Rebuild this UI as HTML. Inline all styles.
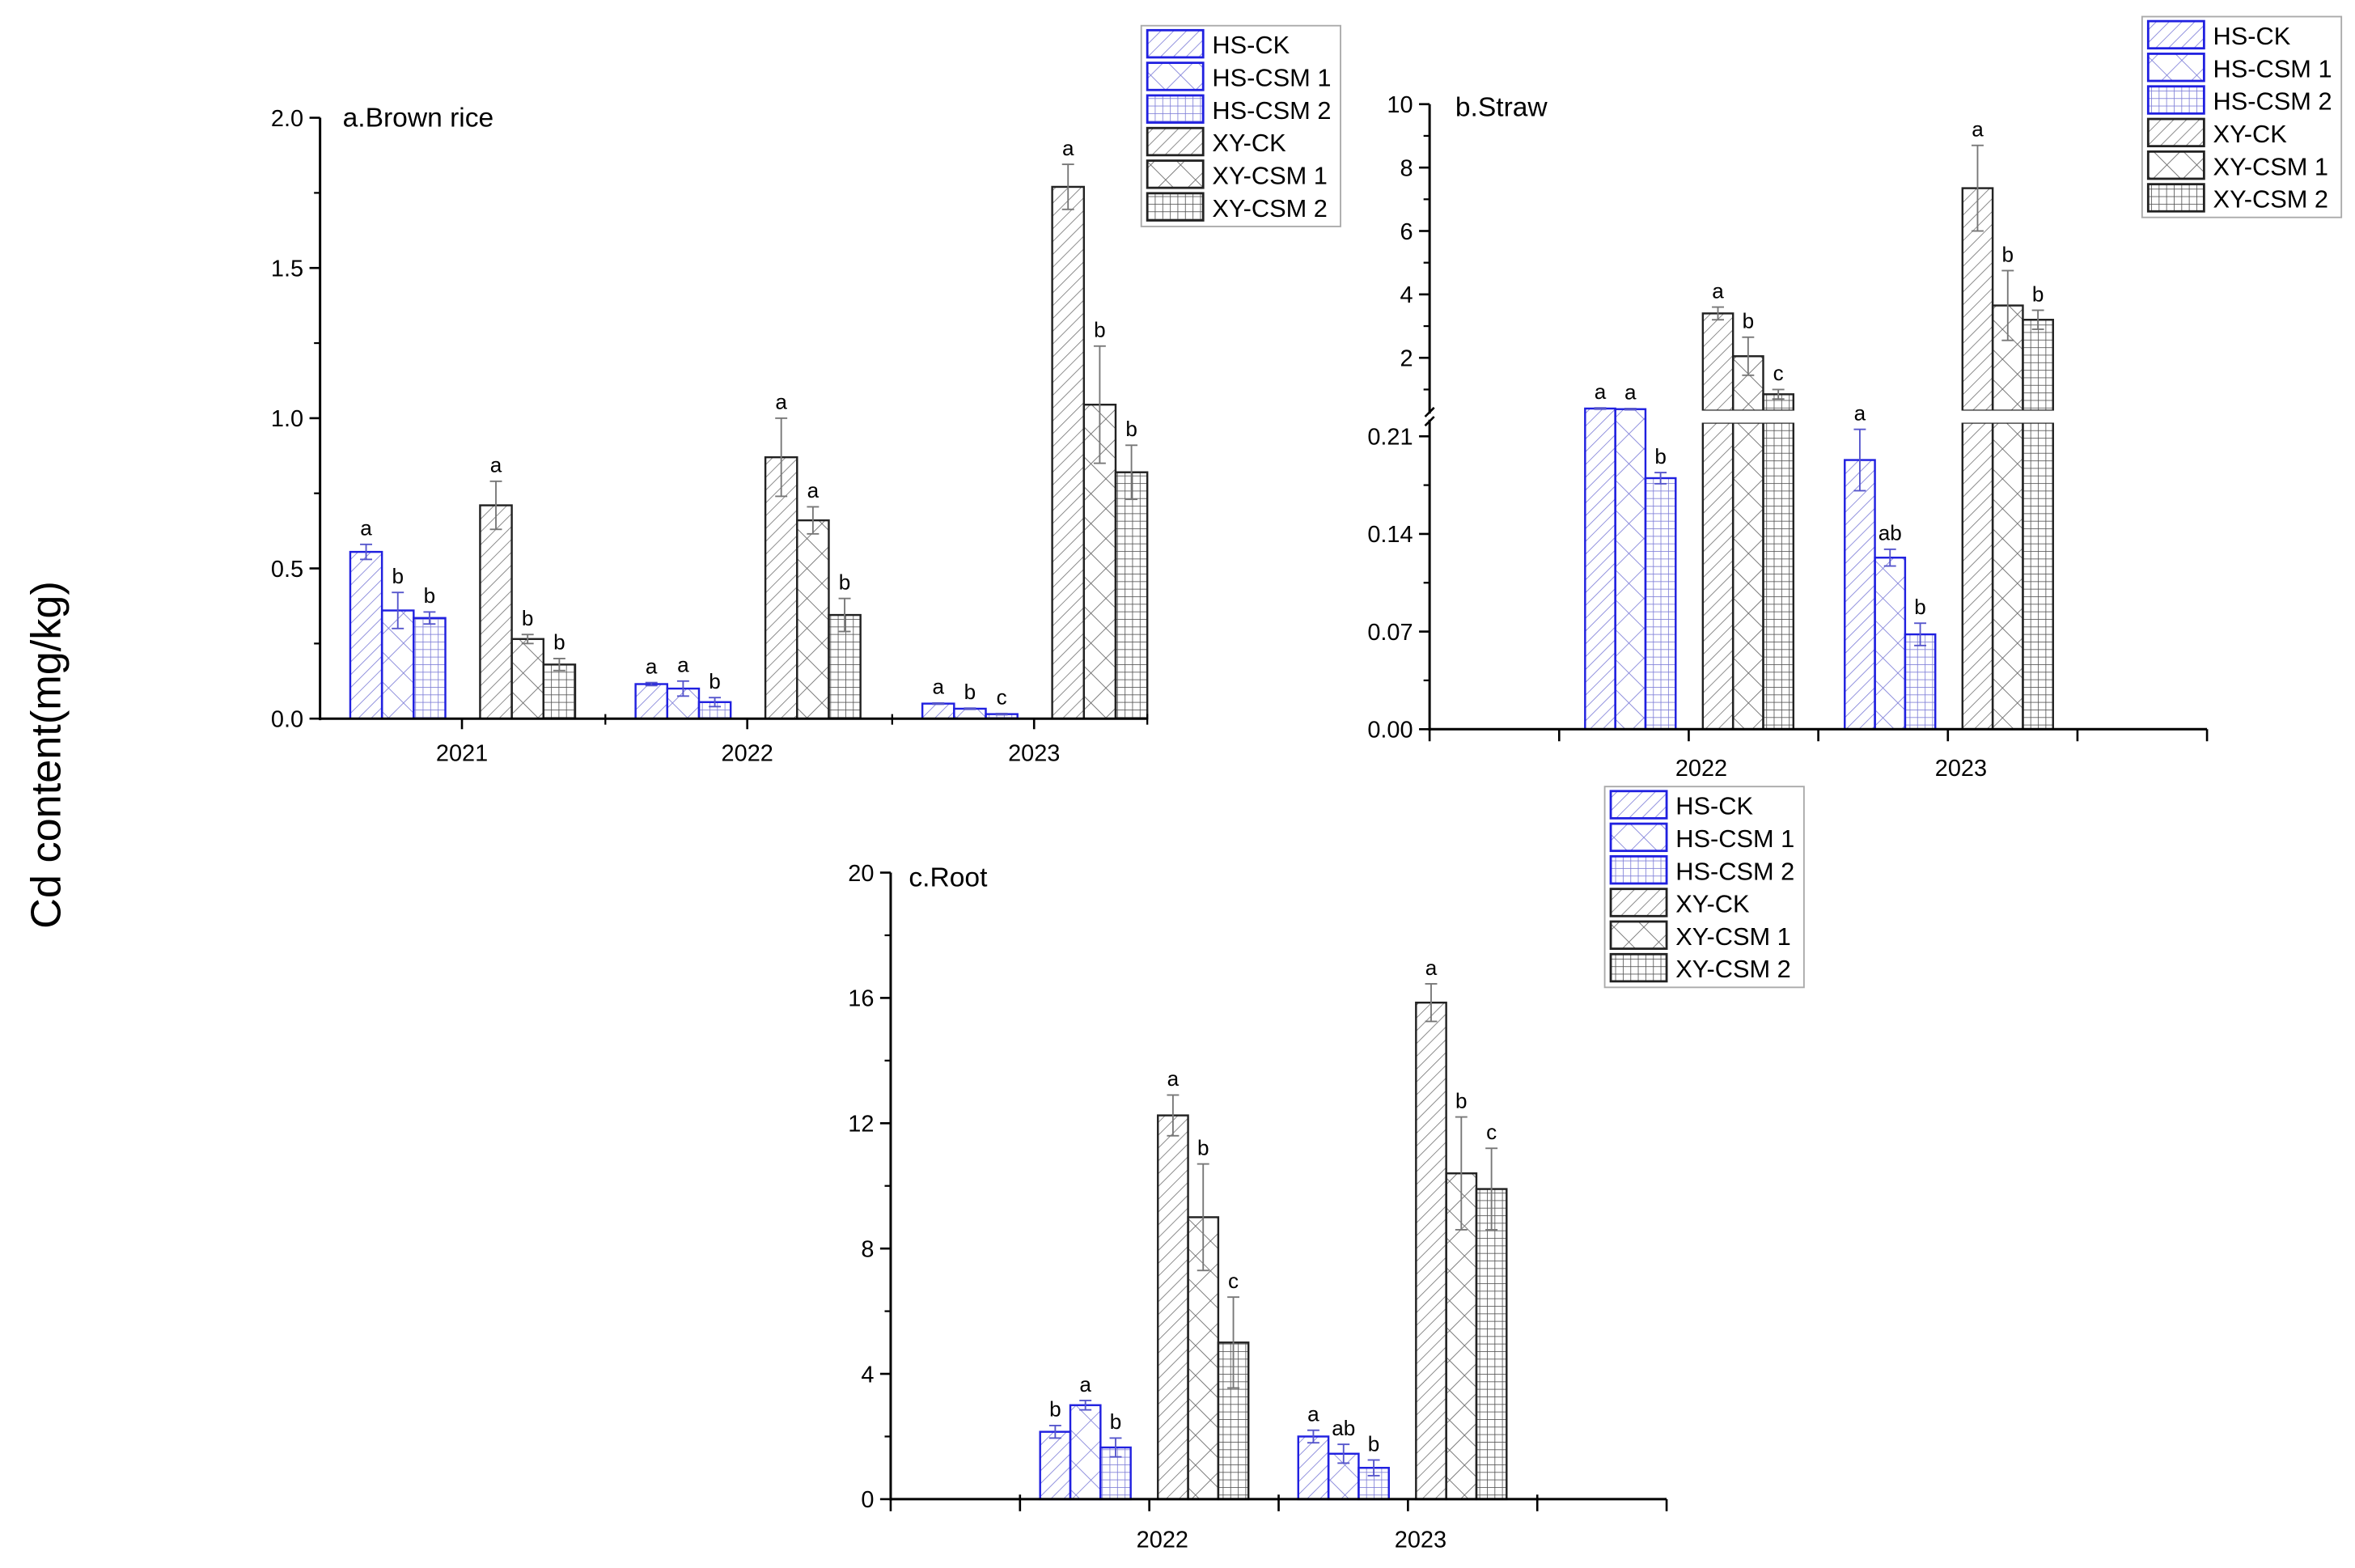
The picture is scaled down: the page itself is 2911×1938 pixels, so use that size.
<!DOCTYPE html>
<html><head><meta charset="utf-8"><style>
html,body{margin:0;padding:0;background:#fff;}
svg{display:block;font-family:"Liberation Sans",Arial,sans-serif;}
</style></head><body>
<svg id="fig" width="2911" height="1938" viewBox="0 0 1560 1038.6" xmlns="http://www.w3.org/2000/svg">
<defs>
<pattern id="p-hs-diag" patternUnits="userSpaceOnUse" width="6" height="6" patternTransform="rotate(45)"><line x1="0" y1="0" x2="0" y2="6" stroke="#7f7fd8" stroke-width="0.9"/></pattern>
<pattern id="p-xy-diag" patternUnits="userSpaceOnUse" width="6" height="6" patternTransform="rotate(45)"><line x1="0" y1="0" x2="0" y2="6" stroke="#777" stroke-width="0.9"/></pattern>
<pattern id="p-hs-cross" patternUnits="userSpaceOnUse" width="14" height="14" patternTransform="rotate(45)"><line x1="0" y1="0" x2="0" y2="14" stroke="#7f7fd8" stroke-width="0.9"/><line x1="0" y1="0" x2="14" y2="0" stroke="#7f7fd8" stroke-width="0.9"/></pattern>
<pattern id="p-xy-cross" patternUnits="userSpaceOnUse" width="14" height="14" patternTransform="rotate(45)"><line x1="0" y1="0" x2="0" y2="14" stroke="#666" stroke-width="0.9"/><line x1="0" y1="0" x2="14" y2="0" stroke="#666" stroke-width="0.9"/></pattern>
<pattern id="p-hs-grid" patternUnits="userSpaceOnUse" width="5" height="5"><line x1="0" y1="0" x2="0" y2="5" stroke="#7f7fd8" stroke-width="0.9"/><line x1="0" y1="0" x2="5" y2="0" stroke="#7f7fd8" stroke-width="0.9"/></pattern>
<pattern id="p-xy-grid" patternUnits="userSpaceOnUse" width="5" height="5"><line x1="0" y1="0" x2="0" y2="5" stroke="#555" stroke-width="0.9"/><line x1="0" y1="0" x2="5" y2="0" stroke="#555" stroke-width="0.9"/></pattern>
</defs>
<text x="0" y="0" font-size="28" text-anchor="middle" transform="translate(40,500) rotate(-90)">Cd content(mg/kg)</text>
</svg>
<script>
// ---- shared series ----
const seriesNames = ["HS-CK","HS-CSM 1","HS-CSM 2","XY-CK","XY-CSM 1","XY-CSM 2"];
// ---- chart a: brown rice ----
const aCategories = ["2021","2022","2023"];
const aHSCK = [0.555,0.115,0.05];
const aHSCSM1 = [0.36,0.10,0.033];
const aHSCSM2 = [0.335,0.055,0.015];
const aXYCK = [0.71,0.87,1.77];
const aXYCSM1 = [0.265,0.66,1.045];
const aXYCSM2 = [0.18,0.345,0.82];
const aErrHSCK = [0.025,0.005,0.002];
const aErrHSCSM1 = [0.06,0.025,0.002];
const aErrHSCSM2 = [0.02,0.015,0.002];
const aErrXYCK = [0.08,0.13,0.075];
const aErrXYCSM1 = [0.015,0.045,0.195];
const aErrXYCSM2 = [0.02,0.055,0.09];
const aLetters = [["a","b","b","a","b","b"],["a","a","b","a","a","b"],["a","b","c","a","b","b"]];
const aTicks = ["0.0","0.5","1.0","1.5","2.0"];
// ---- chart b: straw ----
const bCategories = ["2022","2023"];
const bHSCK = [0.40,0.193];
const bHSCSM1 = [0.38,0.123];
const bHSCSM2 = [0.18,0.068];
const bXYCK = [3.4,7.35];
const bXYCSM1 = [2.05,3.65];
const bXYCSM2 = [0.85,3.2];
const bErrHSCK = [0.02,0.022];
const bErrHSCSM1 = [0.02,0.006];
const bErrHSCSM2 = [0.004,0.008];
const bErrXYCK = [0.2,1.35];
const bErrXYCSM1 = [0.6,1.1];
const bErrXYCSM2 = [0.15,0.3];
const bLetters = [["a","a","b","a","b","c"],["a","ab","b","a","b","b"]];
const bTicksLow = ["0.00","0.07","0.14","0.21"];
const bTicksHigh = ["2","4","6","8","10"];
// ---- chart c: root ----
const cCategories = ["2022","2023"];
const cHSCK = [2.15,2.0];
const cHSCSM1 = [3.0,1.45];
const cHSCSM2 = [1.65,1.0];
const cXYCK = [12.25,15.85];
const cXYCSM1 = [9.0,10.4];
const cXYCSM2 = [5.0,9.9];
const cErrHSCK = [0.2,0.2];
const cErrHSCSM1 = [0.15,0.3];
const cErrHSCSM2 = [0.3,0.25];
const cErrXYCK = [0.65,0.6];
const cErrXYCSM1 = [1.7,1.8];
const cErrXYCSM2 = [1.45,1.3];
const cLetters = [["b","a","b","a","b","c"],["a","ab","b","a","b","c"]];
const cTicks = ["0","4","8","12","16","20"];

const NS="http://www.w3.org/2000/svg";
const svg=document.getElementById('fig');
const fills=["url(#p-hs-diag)","url(#p-hs-cross)","url(#p-hs-grid)","url(#p-xy-diag)","url(#p-xy-cross)","url(#p-xy-grid)"];
const strokes=["#2020e0","#2020e0","#2020e0","#222","#222","#222"];
const errCols=["#5555cc","#5555cc","#5555cc","#777","#777","#777"];
function el(tag,attrs,parent){const e=document.createElementNS(NS,tag);for(const k in attrs)e.setAttribute(k,attrs[k]);(parent||svg).appendChild(e);return e;}
function txt(s,attrs,parent){const e=el('text',attrs,parent);e.textContent=s;return e;}

function legend(x,y,name){
  const g=el('g',{});
  
  
  const b=el('rect',{x:x,y:y,width:132,height:133,fill:'#fff',stroke:'#aaa','stroke-width':1},g);
  
  
  seriesNames.forEach((n,i)=>{
    const yy=y+3+i*21.6;
    el('rect',{x:x+4,y:yy,width:37,height:18,fill:'#fff',stroke:'none'},g);
    const sw=el('rect',{x:x+4,y:yy,width:37,height:18,fill:fills[i],stroke:strokes[i],'stroke-width':1.5},g);
    
    
    const t=txt(n,{x:x+47,y:yy+15.5,'font-size':16.5},g);
    
    
  });
}

function drawErr(cx,yTop,yBot,i,g){
  el('line',{x1:cx,y1:yTop,x2:cx,y2:yBot,stroke:errCols[i],'stroke-width':1},g);
  el('line',{x1:cx-4,y1:yTop,x2:cx+4,y2:yTop,stroke:errCols[i],'stroke-width':1},g);
  el('line',{x1:cx-4,y1:yBot,x2:cx+4,y2:yBot,stroke:errCols[i],'stroke-width':1},g);
}

// ===== Chart a =====
(function(){
  const g=el('g',{});
  
  
  const X0=212,X1=760,Y0=476,Ymax=78,vmax=2.0;
  const y=v=>Y0-(v/vmax)*(Y0-Ymax);
  const centers=[306,495,685];
  const offs=[-74,-53,-32,12,33,54],W=21;
  const vals=[aHSCK,aHSCSM1,aHSCSM2,aXYCK,aXYCSM1,aXYCSM2];
  const errs=[aErrHSCK,aErrHSCSM1,aErrHSCSM2,aErrXYCK,aErrXYCSM1,aErrXYCSM2];
  aCategories.forEach((c,ci)=>{
    vals.forEach((arr,si)=>{
      const v=arr[ci],bx=centers[ci]+offs[si];
      const r=el('rect',{x:bx,y:y(v),width:W,height:Y0-y(v),fill:fills[si],stroke:strokes[si],'stroke-width':1.3},g);
      
      
      const e=errs[si][ci];
      drawErr(bx+W/2,y(v+e),y(Math.max(0,v-e)),si,g);
      txt(aLetters[ci][si],{x:bx+W/2,y:y(v+e)-6,'font-size':14,'text-anchor':'middle'},g);
    });
    const t=txt(c,{x:centers[ci],y:Y0+28,'font-size':15.5,'text-anchor':'middle'},g);
    
    
  });
  el('line',{x1:X0,y1:Ymax,x2:X0,y2:Y0+1,stroke:'#000','stroke-width':1.6},g);
  el('line',{x1:X0,y1:Y0,x2:X1,y2:Y0,stroke:'#000','stroke-width':1.6},g);
  aTicks.forEach((s,i)=>{
    const v=parseFloat(s),yy=y(v);
    el('line',{x1:X0-7,y1:yy,x2:X0,y2:yy,stroke:'#000','stroke-width':1.4},g);
    txt(s,{x:X0-11,y:yy+5.5,'font-size':15.5,'text-anchor':'end'},g);
    if(i<aTicks.length-1) el('line',{x1:X0-4,y1:y(v+0.25),x2:X0,y2:y(v+0.25),stroke:'#000','stroke-width':1.2},g);
  });
  centers.forEach(cx=>el('line',{x1:cx,y1:Y0,x2:cx,y2:Y0+7,stroke:'#000','stroke-width':1.4},g));
  [401,591,X1].forEach(cx=>el('line',{x1:cx,y1:Y0-3,x2:cx,y2:Y0+4,stroke:'#000','stroke-width':1.2},g));
  const tt=txt('a.Brown rice',{x:227,y:84,'font-size':18},g);
  
  
  legend(756,17,'legend-a');
})();

// ===== Chart b =====
(function(){
  const g=el('g',{});
  
  
  const X0=947,X1=1462,Y0=483;
  const lowScale=(483-289)/0.21;
  const BRK_LO=280,BRK_HI=272;
  const yLow=v=>Y0-v*lowScale;
  const yHigh=v=>237-(v-2)*21;
  const lowMax=(Y0-BRK_LO)/lowScale;
  const y=v=>v<=lowMax?yLow(v):yHigh(v);
  const centers=[1117,1289];
  const offs=[-67,-47,-27,11,31,51],W=20;
  const vals=[bHSCK,bHSCSM1,bHSCSM2,bXYCK,bXYCSM1,bXYCSM2];
  const errs=[bErrHSCK,bErrHSCSM1,bErrHSCSM2,bErrXYCK,bErrXYCSM1,bErrXYCSM2];
  bCategories.forEach((c,ci)=>{
    vals.forEach((arr,si)=>{
      const v=arr[ci],bx=centers[ci]+offs[si];
      const top=y(v);
      if(v<=lowMax || top>=BRK_HI-6){
        const r=el('rect',{x:bx,y:top,width:W,height:Y0-top,fill:fills[si],stroke:strokes[si],'stroke-width':1.3},g);
        
        
      }else{
        const r=el('rect',{x:bx,y:BRK_LO,width:W,height:Y0-BRK_LO,fill:fills[si],stroke:strokes[si],'stroke-width':1.3},g);
        
        
        const r2=el('rect',{x:bx,y:top,width:W,height:BRK_HI-top,fill:fills[si],stroke:strokes[si],'stroke-width':1.3},g);
        
        
        el('rect',{x:bx-1,y:BRK_HI,width:W+2,height:BRK_LO-BRK_HI,fill:'#fff'},g);
      }
      const e=errs[si][ci];
      const yt=y(v+e),yb=v<=lowMax?yLow(Math.max(0,v-e)):Math.min(yHigh(v-e),BRK_HI);
      drawErr(bx+W/2,yt,yb,si,g);
      txt(bLetters[ci][si],{x:bx+W/2,y:yt-6,'font-size':14,'text-anchor':'middle'},g);
    });
    const t=txt(c,{x:centers[ci]+10,y:Y0+31,'font-size':15.5,'text-anchor':'middle'},g);
    
    
  });
  el('line',{x1:X0,y1:69,x2:X0,y2:BRK_HI+2,stroke:'#000','stroke-width':1.6},g);
  el('line',{x1:X0,y1:BRK_LO-2,x2:X0,y2:Y0+1,stroke:'#000','stroke-width':1.6},g);
  el('line',{x1:X0-3,y1:BRK_HI+4,x2:X0+3,y2:BRK_HI-2,stroke:'#000','stroke-width':1.4},g);
  el('line',{x1:X0-3,y1:BRK_LO+2,x2:X0+3,y2:BRK_LO-4,stroke:'#000','stroke-width':1.4},g);
  el('line',{x1:X0,y1:Y0,x2:X1,y2:Y0,stroke:'#000','stroke-width':1.6},g);
  bTicksLow.forEach((s,i)=>{
    const v=parseFloat(s),yy=yLow(v);
    el('line',{x1:X0-7,y1:yy,x2:X0,y2:yy,stroke:'#000','stroke-width':1.4},g);
    txt(s,{x:X0-11,y:yy+5.5,'font-size':15.5,'text-anchor':'end'},g);
    if(i<bTicksLow.length-1) el('line',{x1:X0-4,y1:yLow(v+0.035),x2:X0,y2:yLow(v+0.035),stroke:'#000','stroke-width':1.2},g);
  });
  bTicksHigh.forEach((s,i)=>{
    const v=parseFloat(s),yy=yHigh(v);
    el('line',{x1:X0-7,y1:yy,x2:X0,y2:yy,stroke:'#000','stroke-width':1.4},g);
    txt(s,{x:X0-11,y:yy+5.5,'font-size':15.5,'text-anchor':'end'},g);
    el('line',{x1:X0-4,y1:yHigh(v-1),x2:X0,y2:yHigh(v-1),stroke:'#000','stroke-width':1.2},g);
  });
  for(let k=0;k<=6;k++){const tx=X0+k*(X1-X0)/6;el('line',{x1:tx,y1:Y0,x2:tx,y2:Y0+8,stroke:'#000','stroke-width':1.4},g);}
  const tt=txt('b.Straw',{x:964,y:77,'font-size':18},g);
  
  
  legend(1419,11,'legend-b');
})();

// ===== Chart c =====
(function(){
  const g=el('g',{});
  
  
  const X0=590,X1=1104,Y0=993,Ymax=578,vmax=20;
  const y=v=>Y0-(v/vmax)*(Y0-Ymax);
  const centers=[758,929];
  const offs=[-69,-49,-29,9,29,49],W=20;
  const vals=[cHSCK,cHSCSM1,cHSCSM2,cXYCK,cXYCSM1,cXYCSM2];
  const errs=[cErrHSCK,cErrHSCSM1,cErrHSCSM2,cErrXYCK,cErrXYCSM1,cErrXYCSM2];
  cCategories.forEach((c,ci)=>{
    vals.forEach((arr,si)=>{
      const v=arr[ci],bx=centers[ci]+offs[si];
      const r=el('rect',{x:bx,y:y(v),width:W,height:Y0-y(v),fill:fills[si],stroke:strokes[si],'stroke-width':1.3},g);
      
      
      const e=errs[si][ci];
      drawErr(bx+W/2,y(v+e),y(Math.max(0,v-e)),si,g);
      txt(cLetters[ci][si],{x:bx+W/2,y:y(v+e)-6,'font-size':14,'text-anchor':'middle'},g);
    });
    const t=txt(c,{x:centers[ci]+12,y:Y0+32,'font-size':15.5,'text-anchor':'middle'},g);
    
    
  });
  el('line',{x1:X0,y1:Ymax,x2:X0,y2:Y0+1,stroke:'#000','stroke-width':1.6},g);
  el('line',{x1:X0,y1:Y0,x2:X1,y2:Y0,stroke:'#000','stroke-width':1.6},g);
  cTicks.forEach((s,i)=>{
    const v=parseFloat(s),yy=y(v);
    el('line',{x1:X0-7,y1:yy,x2:X0,y2:yy,stroke:'#000','stroke-width':1.4},g);
    txt(s,{x:X0-11,y:yy+5.5,'font-size':15.5,'text-anchor':'end'},g);
    if(i<cTicks.length-1) el('line',{x1:X0-4,y1:y(v+2),x2:X0,y2:y(v+2),stroke:'#000','stroke-width':1.2},g);
  });
  for(let k=0;k<=6;k++){const tx=X0+k*(X1-X0)/6;el('line',{x1:tx,y1:Y0-(k%2?3:0),x2:tx,y2:Y0+8,stroke:'#000','stroke-width':1.4},g);}
  const tt=txt('c.Root',{x:602,y:587,'font-size':18},g);
  
  
  legend(1063,521,'legend-c');
})();
</script>
</body></html>
